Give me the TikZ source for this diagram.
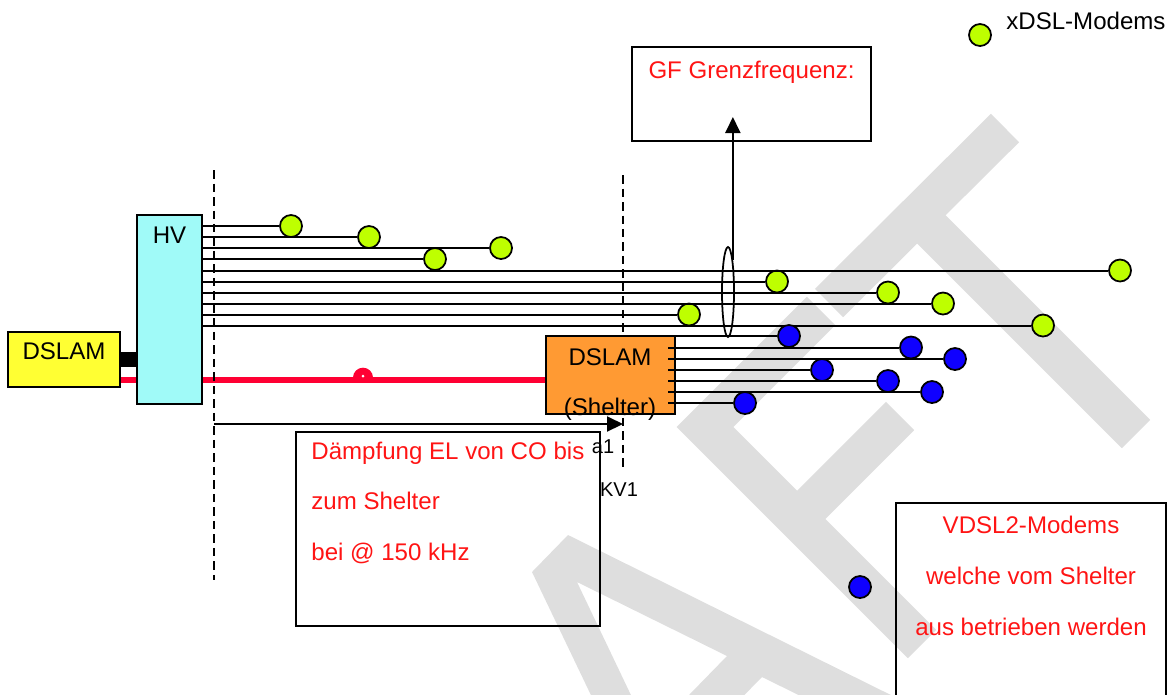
\documentclass[tikz,border=0pt]{standalone}
\usepackage{fontspec}
\setmainfont{Liberation Sans}
\usetikzlibrary{arrows.meta,positioning,shapes.geometric,backgrounds}
\definecolor{dsyellow}{RGB}{255,255,51}
\definecolor{dscyan}{RGB}{160,250,248}
\definecolor{dsorange}{RGB}{255,154,51}
\definecolor{dsgreen}{RGB}{190,255,0}
\definecolor{dsblue}{RGB}{15,0,255}
\definecolor{dsred}{RGB}{255,0,51}
\definecolor{dstext}{RGB}{255,20,20}
\definecolor{dswater}{RGB}{222,222,222}

\begin{document}
\begin{tikzpicture}[x=0.02cm,y=-0.02cm,
    every node/.style={font=\fontsize{13.7}{29}\selectfont},
    unitbox/.style={draw,line width=1.1pt,inner sep=0pt},
    modem/.style={circle,draw,line width=1pt,minimum size=0.44cm,inner sep=0pt},
    xdslmodem/.style={modem,fill=dsgreen},
    vdslmodem/.style={modem,fill=dsblue},
    wire/.style={line width=1.15pt},
    cutline/.style={line width=1pt,dash pattern=on 0.17cm off 0.1cm},
    note/.style={text=dstext,inner sep=0pt},
    water/.style={dswater,line width=0.8cm},
    small/.style={font=\fontsize{11.4}{14}\selectfont,inner sep=0pt}]
  % watermark
  \begin{scope}[on background layer]
    \clip (0,0) rectangle (1168,694);
    \fill[dswater,even odd rule] (532,572) -- (568,535) -- (1022,760) -- (622,760) -- cycle
        (577,582) -- (727,656) -- (650,735) -- cycle
        (762,677) -- (900,745) -- (710,730) -- cycle;
    \draw[water] (821,311) -- (705,427) -- (922,644);
    \draw[water] (797,519) -- (900,416);
    \draw[water] (829,303) -- (1005,128);
    \draw[water] (917,215) -- (1136,434);
  \end{scope}
  \useasboundingbox (0,0) rectangle (1168,694);

  % dashed cuts
  \coordinate (cotop) at (214,170);
  \coordinate (cobot) at (214,580);
  \coordinate (kvtop) at (623,175);
  \coordinate (kvbot) at (623,470);
  \draw[cutline] (cotop) -- (cobot);
  \draw[cutline] (kvtop) -- (kvbot);

  % boxes
  \node[unitbox,fill=dsyellow,minimum width=2.24cm,minimum height=1.1cm] (dslam) at (64,359.5) {};
  \node[inner sep=0pt,below=0.22cm of dslam.north] (dslamtext) {DSLAM};
  \node[unitbox,fill=dscyan,minimum width=1.3cm,minimum height=3.78cm] (hv) at (169.5,309.5) {};
  \node[inner sep=0pt,below=0.26cm of hv.north] (hvtext) {HV};
  \node[unitbox,fill=dsorange,minimum width=2.58cm,minimum height=1.56cm] (shelter) at (610.5,375) {};
  \node (sheltop) at (610,357) {DSLAM};
  \node (shelbot) at (610,409) {(Shelter)};
  \node[unitbox,minimum width=4.78cm,minimum height=1.88cm] (gf) at (751.5,94) {};
  \node[note,below=0.29cm of gf.north] (gftext) {GF Grenzfrequenz:};
  \node[unitbox,minimum width=6.08cm,minimum height=3.88cm] (damp) at (448,529) {};
  \node[note,align=left,font=\fontsize{13.7}{28.5}\selectfont,
        below right=0.22cm and 0.32cm of damp.north west] (damptext)
        {Dämpfung EL von CO bis\\zum Shelter\\bei @ 150 kHz};
  \node[unitbox,minimum width=5.4cm,minimum height=4.8cm] (vbox) at (1031,623) {};
  \node[note,align=center,below=0.27cm of vbox.north] (vboxtext)
        {VDSL2-Modems\\welche vom Shelter\\aus betrieben werden};
  \node[ellipse,draw,line width=1pt,minimum width=0.24cm,minimum height=1.8cm,inner sep=0pt] (bundle) at (728,292) {};

  % legend
  \node[xdslmodem] (legmodem) at (980,35) {};
  \node[inner sep=0pt,anchor=west] (legtext) at (1006,21) {xDSL-Modems};

  % xDSL modems from HV
  \node[xdslmodem] (m1) at (291,226) {};
  \node[xdslmodem] (m2) at (369,237) {};
  \node[xdslmodem] (m3) at (501,248) {};
  \node[xdslmodem] (m4) at (435,259) {};
  \node[xdslmodem] (m5) at (1120,270.5) {};
  \node[xdslmodem] (m6) at (777,281.5) {};
  \node[xdslmodem] (m7) at (888,292.5) {};
  \node[xdslmodem] (m8) at (943,303.5) {};
  \node[xdslmodem] (m9) at (689,314.5) {};
  \node[xdslmodem] (m10) at (1043,325.5) {};
  \draw[wire] (m1) -- (m1 -| hv.east);
  \draw[wire] (m2) -- (m2 -| hv.east);
  \draw[wire] (m3) -- (m3 -| hv.east);
  \draw[wire] (m4) -- (m4 -| hv.east);
  \draw[wire] (m5) -- (m5 -| hv.east);
  \draw[wire] (m6) -- (m6 -| hv.east);
  \draw[wire] (m7) -- (m7 -| hv.east);
  \draw[wire] (m8) -- (m8 -| hv.east);
  \draw[wire] (m9) -- (m9 -| hv.east);
  \draw[wire] (m10) -- (m10 -| hv.east);

  % VDSL2 modems from shelter
  \node[vdslmodem] (b1) at (789,336) {};
  \node[vdslmodem] (b2) at (911,347.5) {};
  \node[vdslmodem] (b3) at (955,359) {};
  \node[vdslmodem] (b4) at (822,370) {};
  \node[vdslmodem] (b5) at (888,381) {};
  \node[vdslmodem] (b6) at (932,392) {};
  \node[vdslmodem] (b7) at (745,403) {};
  \node[vdslmodem] (b8) at (860,587) {};
  \draw[wire] (b1) -- (b1 -| shelter.east);
  \draw[wire] (b2) -- (b2 -| shelter.east) -- ++(-8,0);
  \draw[wire] (b3) -- (b3 -| shelter.east) -- ++(-8,0);
  \draw[wire] (b4) -- (b4 -| shelter.east) -- ++(-8,0);
  \draw[wire] (b5) -- (b5 -| shelter.east) -- ++(-8,0);
  \draw[wire] (b6) -- (b6 -| shelter.east) -- ++(-8,0);
  \draw[wire] (b7) -- (b7 -| shelter.east) -- ++(-8,0);

  % DSLAM to HV, fibre to shelter
  \draw[line width=0.3cm] (dslam.east) -- (dslam.east -| hv.west);
  \coordinate (redlevel) at (0,380);
  \begin{scope}[on background layer]
    \draw[dsred,line width=0.12cm] (dslam.east |- redlevel) -- (shelter.west |- redlevel);
  \end{scope}
  \node[semicircle,fill=dsred,inner sep=0pt,minimum width=0.4cm,anchor=chord center] (redmark) at (363,378) {};
  \fill[white] (363,376) circle[radius=1.5];

  % attenuation and cut-off
  \coordinate (ay) at (0,424);
  \draw[wire,-{Triangle[length=0.32cm,width=0.3cm]}] (cotop |- ay) -- (kvtop |- ay);
  \node[small] (atext) at (603,447) {a1};
  \node[small] (kvtext) at (619,490) {KV1};
  \coordinate (gftip) at (734,117);
  \draw[wire,-{Triangle[length=0.32cm,width=0.3cm]}] (bundle.north east) -- (bundle.north east |- gftip);
\end{tikzpicture}
\end{document}
